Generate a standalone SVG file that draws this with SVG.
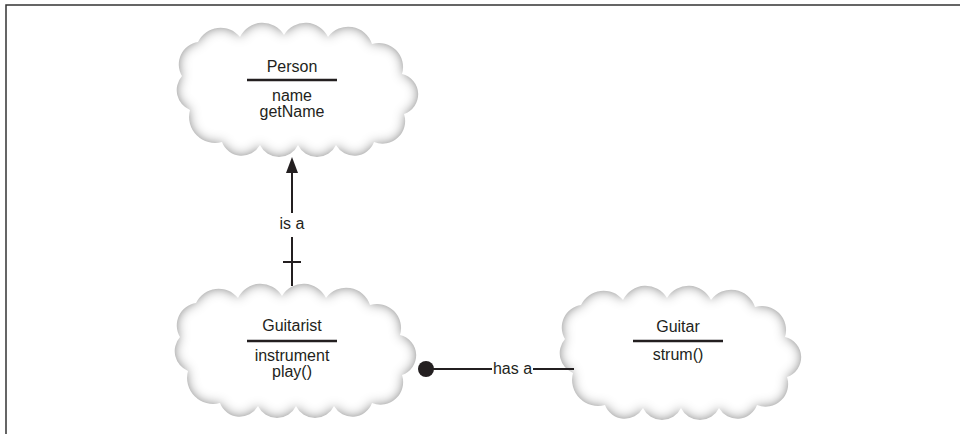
<svg xmlns="http://www.w3.org/2000/svg" xmlns:xlink="http://www.w3.org/1999/xlink" width="960" height="434" viewBox="0 0 960 434">
<style>
  .lbl { font-family: 'Liberation Sans', Arial, sans-serif; font-size: 16px; fill: #231f20; text-anchor: middle; }
  .sep { stroke: #231f20; stroke-width: 2.5; }
  .conn { stroke: #231f20; stroke-width: 2; fill: none; }
  .cloud { fill: #ffffff; filter: url(#shade); }
</style>
<defs>
  <filter id="shade" x="-10%" y="-10%" width="120%" height="120%">
    <feGaussianBlur in="SourceAlpha" stdDeviation="6" result="b"/>
    <feComposite in="SourceAlpha" in2="b" operator="out" result="edge"/>
    <feFlood flood-color="#626262" result="c"/>
    <feComposite in="c" in2="edge" operator="in" result="g"/>
    <feMerge><feMergeNode in="SourceGraphic"/><feMergeNode in="g"/></feMerge>
  </filter>
  <path id="cloudShape" d="M -98 -48 A 25 25 0 0 1 -56 -53 A 25 25 0 0 1 -12 -55 A 25 25 0 0 1 32 -53 A 25 25 0 0 1 76 -46 A 24 24 0 0 1 106 -16 A 20.8 20.8 0 0 1 108 24 A 22.6 22.6 0 0 1 78 52 A 21 21 0 0 1 40 55 A 21 21 0 0 1 2 55 A 21 21 0 0 1 -36 55 A 21 21 0 0 1 -74 52 A 26 26 0 0 1 -106 20 A 21.5 21.5 0 0 1 -114 -14 A 22.6 22.6 0 0 1 -98 -48 Z"/>
</defs>
<rect width="960" height="434" fill="#ffffff"/>
<path d="M6 434 V5 H960" fill="none" stroke="#333" stroke-width="1.5"/>

<g id="person">
  <use xlink:href="#cloudShape" class="cloud" transform="translate(296,90)"/>
  <text class="lbl" x="292" y="72">Person</text>
  <line class="sep" x1="247" y1="80" x2="337" y2="80"/>
  <text class="lbl" x="292" y="101">name</text>
  <text class="lbl" x="292" y="117">getName</text>
</g>

<g id="guitarist">
  <use xlink:href="#cloudShape" class="cloud" transform="translate(294,351)"/>
  <text class="lbl" x="292" y="331">Guitarist</text>
  <line class="sep" x1="247" y1="341" x2="337" y2="341"/>
  <text class="lbl" x="292" y="361">instrument</text>
  <text class="lbl" x="292" y="377">play()</text>
</g>

<g id="guitar">
  <use xlink:href="#cloudShape" class="cloud" transform="translate(679,353)"/>
  <text class="lbl" x="678" y="332">Guitar</text>
  <line class="sep" x1="633" y1="341" x2="723" y2="341"/>
  <text class="lbl" x="678" y="360">strum()</text>
</g>

<g id="connectors">
  <line class="conn" x1="292" y1="171" x2="292" y2="213"/>
  <line class="conn" x1="292" y1="237" x2="292" y2="286"/>
  <polygon points="292,157 286,173 298,173" fill="#231f20"/>
  <line class="conn" x1="283" y1="262" x2="301" y2="262"/>
  <text class="lbl" x="292" y="229">is a</text>
  <circle cx="426" cy="369" r="8" fill="#231f20"/>
  <line class="conn" x1="426" y1="369" x2="492" y2="369"/>
  <text class="lbl" x="512.5" y="374">has a</text>
  <line class="conn" x1="533" y1="369" x2="574" y2="369"/>
</g>
</svg>
